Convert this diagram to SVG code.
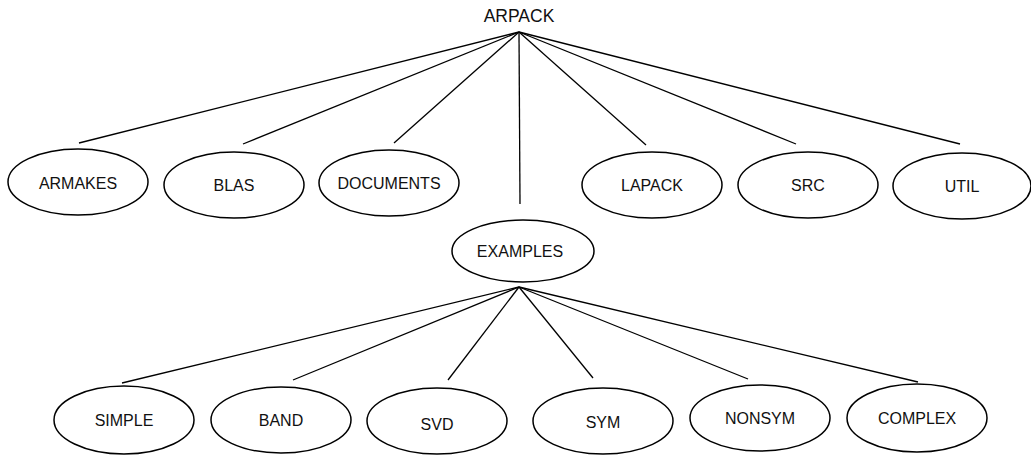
<svg xmlns="http://www.w3.org/2000/svg" width="1031" height="455" viewBox="0 0 1031 455">
<style>
.n ellipse{fill:#fff;stroke:#000;stroke-width:1.5}
text{font-family:"Liberation Sans",Arial,sans-serif;font-size:16px;fill:#111;text-anchor:middle}
.c line{stroke:#000;stroke-width:1.3}
</style>
<rect width="1031" height="455" fill="#fff"/>
<g class="c" id="connectors">
<line x1="519" y1="32" x2="79" y2="143"/>
<line x1="519" y1="32" x2="243" y2="144"/>
<line x1="519" y1="32" x2="394" y2="143"/>
<line x1="519" y1="32" x2="520" y2="204"/>
<line x1="519" y1="32" x2="646" y2="145"/>
<line x1="519" y1="32" x2="796" y2="144"/>
<line x1="519" y1="32" x2="960" y2="144"/>
<line x1="519" y1="287" x2="122" y2="383"/>
<line x1="519" y1="287" x2="293" y2="380"/>
<line x1="519" y1="287" x2="448" y2="380"/>
<line x1="519" y1="287" x2="593" y2="378"/>
<line x1="519" y1="287" x2="748" y2="379"/>
<line x1="519" y1="287" x2="918" y2="382"/>
</g>
<g id="arpack"><text x="519" y="22" style="font-size:17.5px">ARPACK</text></g>
<g class="n" id="armakes"><ellipse cx="78" cy="182" rx="70" ry="33"/><text x="78" y="189">ARMAKES</text></g>
<g class="n" id="blas"><ellipse cx="234" cy="185" rx="70" ry="33"/><text x="234" y="191">BLAS</text></g>
<g class="n" id="documents"><ellipse cx="389" cy="183" rx="70" ry="33"/><text x="389" y="189">DOCUMENTS</text></g>
<g class="n" id="lapack"><ellipse cx="652" cy="185" rx="70" ry="33"/><text x="652" y="191">LAPACK</text></g>
<g class="n" id="src"><ellipse cx="808" cy="185" rx="70" ry="33"/><text x="808" y="191">SRC</text></g>
<g class="n" id="util"><ellipse cx="962" cy="186" rx="69" ry="33"/><text x="962" y="192">UTIL</text></g>
<g class="n" id="examples"><ellipse cx="523" cy="251" rx="71" ry="31"/><text x="520" y="257">EXAMPLES</text></g>
<g class="n" id="simple"><ellipse cx="124" cy="420" rx="70" ry="34"/><text x="124" y="426">SIMPLE</text></g>
<g class="n" id="band"><ellipse cx="281" cy="420" rx="70" ry="33"/><text x="281" y="426">BAND</text></g>
<g class="n" id="svd"><ellipse cx="437" cy="421" rx="70" ry="33"/><text x="437" y="430">SVD</text></g>
<g class="n" id="sym"><ellipse cx="603" cy="421" rx="70" ry="33"/><text x="603" y="428">SYM</text></g>
<g class="n" id="nonsym"><ellipse cx="760" cy="418" rx="70" ry="33"/><text x="760" y="424">NONSYM</text></g>
<g class="n" id="complex"><ellipse cx="917" cy="418" rx="70" ry="34"/><text x="917" y="424">COMPLEX</text></g>
</svg>
